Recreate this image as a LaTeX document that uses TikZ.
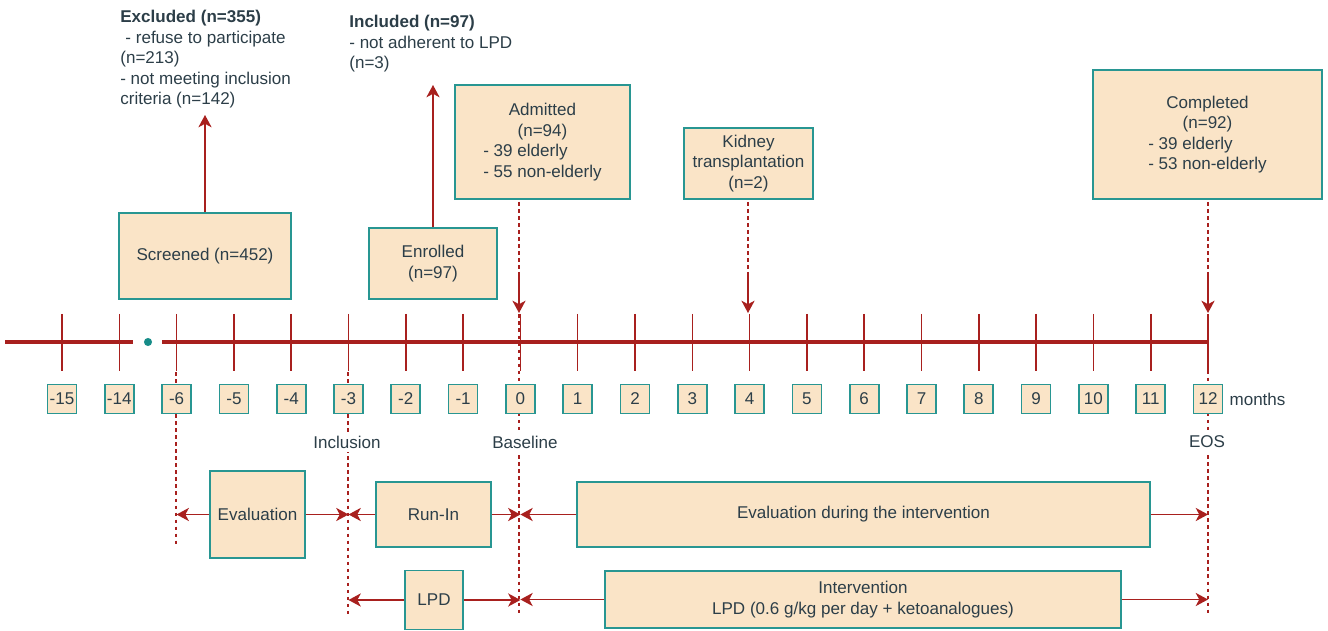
\documentclass[tikz,border=0pt]{standalone}
\usepackage{fontspec}
\setmainfont{Liberation Sans}
\usetikzlibrary{arrows.meta}
\definecolor{axisred}{RGB}{168,32,30}
\definecolor{boxteal}{RGB}{40,150,146}
\definecolor{boxfill}{RGB}{250,228,199}
\definecolor{inkgray}{RGB}{44,62,72}
\definecolor{dotteal}{RGB}{22,140,136}

\begin{document}
\begin{tikzpicture}[x=0.02cm, y=-0.02cm,
	font=\fontsize{9.7}{11.7}\selectfont, text=inkgray,
	card/.style={draw=boxteal, fill=boxfill, line width=1pt, align=center, inner sep=0pt},
	mbox/.style={draw=boxteal, fill=boxfill, line width=1pt, minimum size=0.58cm, inner sep=0pt},
	note/.style={anchor=north west, align=left, inner sep=0pt},
	mark label/.style={fill=white, inner sep=2pt},
	tickln/.style={axisred, line width=0.9pt},
	guide/.style={axisred, line width=0.8pt, dash pattern=on 2pt off 2pt},
	arr/.style={axisred, line width=0.9pt, -{Stealth[length=7pt, width=7.5pt, inset=2pt]}}]
	\useasboundingbox (0,0) rectangle (1328,631);
	\def\gap{57.3}

	\draw[axisred, line width=2.6pt] (5,342) -- (133,342);
	\draw[axisred, line width=2.6pt] (162,342) -- (1208,342);
	\fill[dotteal] (148,342) circle [radius=2.3pt];

	\coordinate (top-6) at (176,372);
	\coordinate (bot-6) at (176,545);
	\coordinate (top-3) at (348,372);
	\coordinate (bot-3) at (348,615);
	\coordinate (top0) at (519,202);
	\coordinate (bot0) at (519,615);
	\coordinate (top4) at (748,202);
	\coordinate (top12) at (1208,202);
	\coordinate (bot12) at (1208,615);

	\draw[guide] (top-6) -- (bot-6);
	\draw[guide] (top-3) -- (bot-3);
	\draw[guide] (top0) -- (bot0);
	\draw[guide] (top4) -- (748,312);
	\draw[guide] (top12) -- (bot12);

	\foreach \lbl [count=\i from 0] in {-15,-14,-6,-5,-4,-3,-2,-1,0,1,2,3,4,5,6,7,8,9,10,11,12} {
		\pgfmathsetmacro\x{62+\gap*\i}
		\draw[tickln] (\x,314) -- (\x,371);
		\node[mbox] (m\lbl) at (\x,399) {\lbl};
	}
	\node[anchor=west] (mon) at (m12.east) {months};

	\node[mark label] (incl) at (347,442) {Inclusion};
	\node[mark label] (base) at (525,442) {Baseline};
	\node[mark label] (eos) at (1207,442) {EOS};

	\node[note] (excl) at (120,10) {\textbf{Excluded (n=355)}\\\hspace{0.3em}- refuse to participate\\(n=213)\\- not meeting inclusion\\criteria (n=142)};
	\node[note] (inc) at (349,15) {\textbf{Included (n=97)}\\- not adherent to LPD\\(n=3)};

	\node[card, minimum width=3.44cm, minimum height=1.72cm] (scr) at (205,256) {Screened (n=452)};
	\node[card, minimum width=2.56cm, minimum height=1.42cm] (enr) at (433,263.5) {Enrolled\\(n=97)};
	\node[card, minimum width=3.5cm, minimum height=2.28cm] (adm) at (542.5,142) {Admitted\\(n=94)\\- 39 elderly\phantom{non-}\\- 55 non-elderly};
	\node[card, minimum width=2.58cm, minimum height=1.42cm] (kid) at (748.5,163.5) {Kidney\\transplantation\\(n=2)};
	\node[card, minimum width=4.58cm, minimum height=2.58cm] (cmp) at (1207.5,134.5) {Completed\\(n=92)\\- 39 elderly\phantom{non-}\\- 53 non-elderly};

	\node[card, minimum width=1.9cm, minimum height=1.74cm] (eval) at (257.5,514.5) {Evaluation};
	\node[card, minimum width=2.3cm, minimum height=1.3cm] (run) at (433.5,514.5) {Run-In};
	\node[card, minimum width=11.46cm, minimum height=1.3cm] (evi) at (863.5,514.5) {Evaluation during the intervention};
	\node[card, minimum width=1.16cm, minimum height=1.18cm] (lpd) at (434,600) {LPD};
	\node[card, minimum width=10.32cm, minimum height=1.14cm] (itv) at (863,599.5) {Intervention\\LPD (0.6 g/kg per day + ketoanalogues)};

	\coordinate (exclTip) at (205,115);
	\coordinate (incTip) at (433,85);
	\draw[arr] (scr.north) -- (exclTip);
	\draw[arr] (enr.north) -- (incTip);

	\draw[arr] (519,272) -- (519,313);
	\draw[arr] (748,272) -- (748,313);
	\draw[arr] (1208,272) -- (1208,313);

	\draw[arr] (eval.west) -- (eval.west -| m-6);
	\draw[arr] (eval.east) -- (eval.east -| m-3);
	\draw[arr] (run.west) -- (run.west -| m-3);
	\draw[arr] (run.east) -- (run.east -| m0);
	\draw[arr] (evi.west) -- (evi.west -| m0);
	\draw[arr] (evi.east) -- (evi.east -| m12);
	\draw[arr] (lpd.west) -- (lpd.west -| m-3);
	\draw[arr] (lpd.east) -- (lpd.east -| m0);
	\draw[arr] (itv.west) -- (itv.west -| m0);
	\draw[arr] (itv.east) -- (itv.east -| m12);
\end{tikzpicture}
\end{document}
